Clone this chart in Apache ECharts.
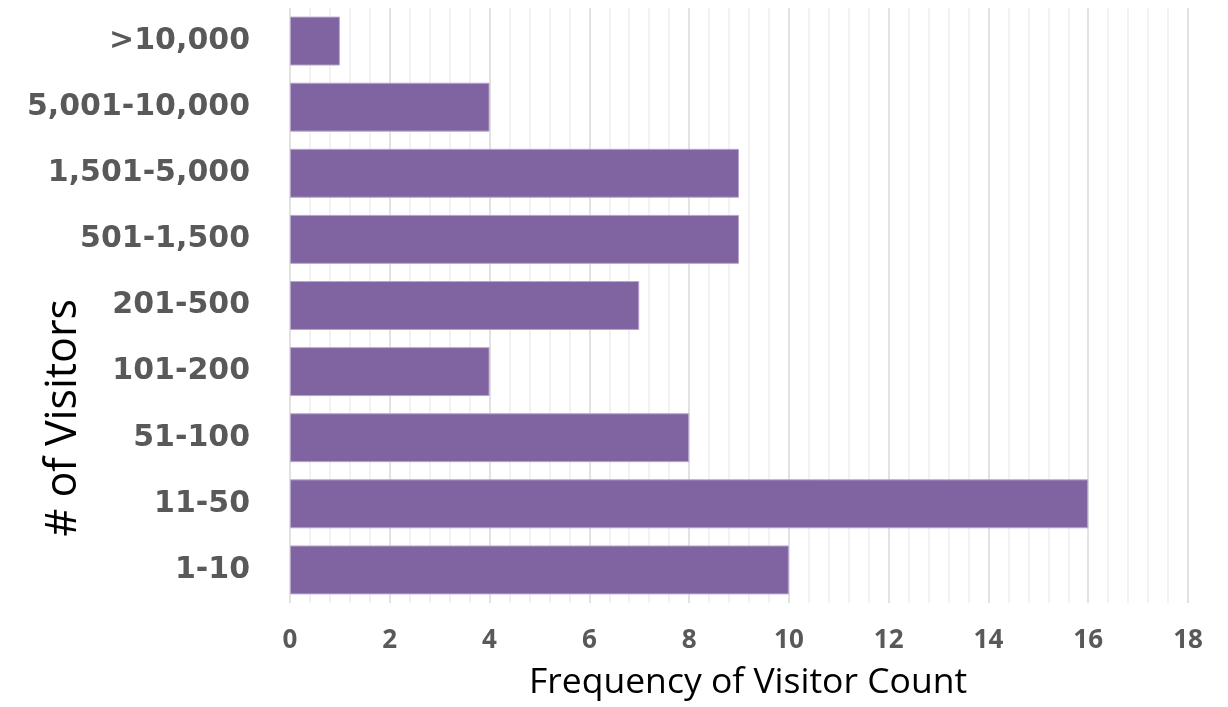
<!DOCTYPE html>
<html>
<head>
<meta charset="utf-8">
<script src="https://cdn.jsdelivr.net/npm/echarts@6/dist/echarts.min.js"></script>
<style>
  html, body { margin: 0; padding: 0; background: #fff; }
</style>
</head>
<body>
<div id="chart" style="width: 1228px; height: 707px"></div>
<script>
// bottom to top, as on the category axis
const categories = ["1-10", "11-50", "51-100", "101-200", "201-500", "501-1,500", "1,501-5,000", "5,001-10,000", ">10,000"];
const frequency = [10, 16, 8, 4, 7, 9, 9, 4, 1];
const xTicks = { min: 0, max: 18, interval: 2 };

const chartsDom = document.getElementById("chart");
const myCharts = echarts.init(chartsDom);

const option = {
  animation: false,
  grid: {
    left: 290,
    right: 40,
    top: 8,
    bottom: 104
  },
  xAxis: {
    type: "value",
    min: xTicks.min,
    max: xTicks.max,
    interval: xTicks.interval,
    name: "Frequency of Visitor Count",
    nameLocation: "middle",
    nameGap: 62,
    nameTextStyle: { fontFamily: "Open Sans", fontSize: 35.5, color: "#000", padding: [0, 0, 0, 18] },
    axisLine: { show: false },
    axisTick: { show: false },
    axisLabel: {
      fontFamily: "Open Sans",
      fontWeight: "bold",
      fontSize: 26,
      color: "#595959",
      margin: 25
    },
    splitLine: { show: true, lineStyle: { color: "#d9d9d9", width: 1.5 } },
    minorTick: { show: false, splitNumber: 5 },
    minorSplitLine: { show: true, lineStyle: { color: "#eeeeee", width: 1.5 } }
  },
  yAxis: {
    type: "category",
    data: categories,
    axisLine: { show: false },
    axisTick: { show: false },
    axisLabel: {
      fontFamily: "DejaVu Sans",
      fontWeight: "bold",
      fontSize: 30,
      color: "#595959",
      margin: 40
    }
  },
  graphic: [
    {
      // y axis title sits lower than the plot centre
      type: "text",
      left: 42,
      top: 299,
      rotation: Math.PI / 2,
      style: {
        text: "# of Visitors",
        font: "43px 'Open Sans'",
        fill: "#000"
      }
    }
  ],
  series: [
    {
      type: "bar",
      data: frequency,
      barCategoryGap: "26%",
      itemStyle: { color: "#8064a2", borderColor: "#b7a6cc", borderWidth: 1 }
    }
  ]
};

myCharts.setOption(option);
</script>
</body>
</html>
